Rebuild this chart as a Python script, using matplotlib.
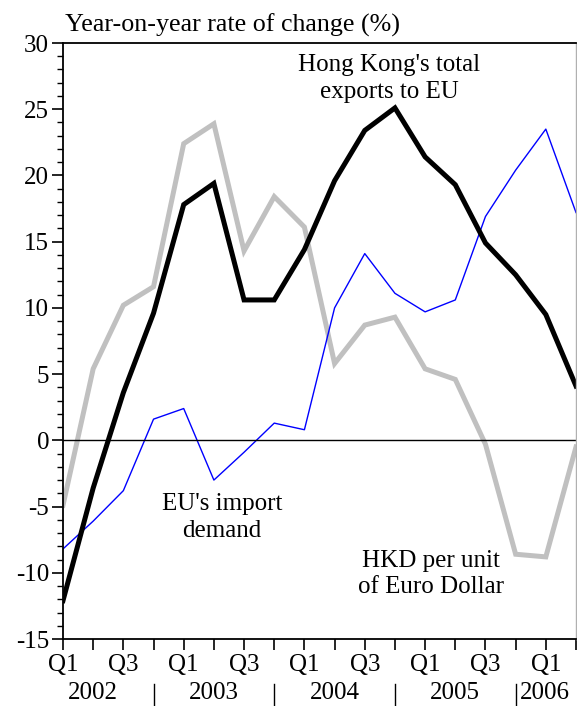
import numpy as np
import matplotlib.pyplot as plt
import matplotlib.transforms as mtransforms

plt.rcParams['font.family'] = 'serif'
plt.rcParams['font.serif'] = ['Liberation Serif']
plt.rcParams['axes.unicode_minus'] = False

quarters = np.arange(18)  # 2002 Q1 .. 2006 Q2
q_labels = ['Q1', '', 'Q3', '', 'Q1', '', 'Q3', '', 'Q1', '', 'Q3', '', 'Q1', '', 'Q3', '', 'Q1', '']
years = ['2002', '2003', '2004', '2005']
year_pos = [1, 5, 9, 13]
year_seps = [3, 7, 11, 15]

hk_exports = [-12.1, -3.6, 3.6, 9.6, 17.8, 19.4, 10.6, 10.6, 14.4, 19.6,
              23.4, 25.1, 21.4, 19.3, 14.9, 12.5, 9.5, 4.1]
hkd_euro = [-4.9, 5.4, 10.2, 11.6, 22.4, 23.9, 14.3, 18.4, 16.1, 5.8,
            8.7, 9.3, 5.4, 4.6, -0.3, -8.6, -8.8, -0.5]
eu_import = [-8.2, -6.1, -3.8, 1.6, 2.4, -3.0, -0.9, 1.3, 0.8, 10.0,
             14.1, 11.1, 9.7, 10.6, 16.9, 20.4, 23.5, 17.2]

fs = 18
fig = plt.figure(figsize=(5.77, 7.06), dpi=100)
ax = fig.add_axes([63/577, 1 - 639/706, 513/577, 596/706])

ax.plot(quarters, hkd_euro, color='#c0c0c0', lw=3.6, solid_joinstyle='miter')
ax.plot(quarters, eu_import, color='#0000ff', lw=1.0)
ax.plot(quarters, hk_exports, color='black', lw=3.6, solid_joinstyle='miter')
ax.axhline(0, color='black', lw=1.0)

ax.set_xlim(0, 17)
ax.set_ylim(-15, 30)
ax.set_yticks(np.arange(-15, 31, 5))
ax.set_yticks(np.arange(-15, 31, 1), minor=True)
ax.set_xticks(quarters)
ax.set_xticklabels(q_labels)
for i, t in enumerate(ax.xaxis.get_major_ticks()):
    if i % 2 == 1:
        t.tick1line.set_markersize(4)
ax.tick_params(axis='both', which='major', length=8, width=1.2, labelsize=fs, direction='out', pad=2)
ax.tick_params(axis='y', which='minor', length=4, width=1.0)
ax.tick_params(axis='x', which='major', pad=3)

for s in ['left', 'bottom', 'top']:
    ax.spines[s].set_linewidth(1.3)
ax.spines['right'].set_color('#b0b0b0')
ax.spines['right'].set_linewidth(1.0)

trans = mtransforms.blended_transform_factory(ax.transData, ax.transAxes)
for x, y in zip(year_pos, years):
    ax.text(x, -0.09, y, transform=trans, ha='center', va='center', fontsize=fs)
ax.text(15.15, -0.09, '2006', transform=trans, ha='left', va='center', fontsize=fs)
for x in year_seps:
    ax.plot([x, x], [-0.075, -0.115], transform=trans, color='black', lw=1.0, clip_on=False)

fig.text(65/577, 1 - 32/706, 'Year-on-year rate of change (%)', fontsize=18.7, ha='left', va='baseline')

# line labels, one text per line
labels = [
    (10.8, 27.9, "Hong Kong's total"), (10.8, 25.85, "exports to EU"),
    (5.27, -5.26, "EU's import"), (5.27, -7.3, "demand"),
    (12.2, -9.56, "HKD per unit"), (12.2, -11.53, "of Euro Dollar"),
]
for x, y, s in labels:
    ax.text(x, y, s, fontsize=fs, ha='center', va='baseline')

fig.savefig('out.png', dpi=100)
